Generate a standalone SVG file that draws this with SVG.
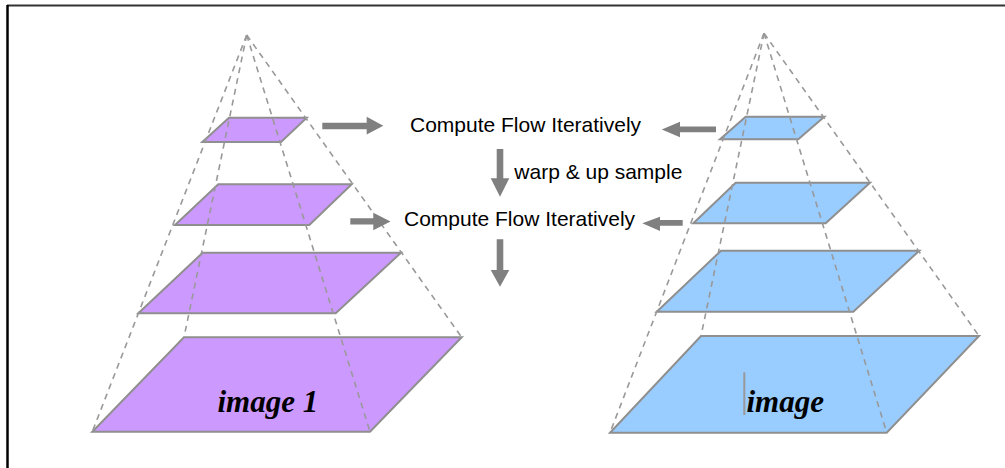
<svg xmlns="http://www.w3.org/2000/svg" width="1005" height="468" viewBox="0 0 1005 468">
  <defs>
    <style>
      .frame-top { stroke: #333; stroke-width: 2; }
      .frame-left { stroke: #000; stroke-width: 2.5; }
      .plane-a { fill: #CC99FF; stroke: #8f8f8f; stroke-width: 2; stroke-linejoin: miter; }
      .plane-b { fill: #99CCFF; stroke: #8f8f8f; stroke-width: 2; stroke-linejoin: miter; }
      .edge { fill: none; stroke: #999; stroke-width: 1.6; stroke-dasharray: 6 5; }
      .arrow { fill: #808080; stroke: none; }
      .label { font-family: "Liberation Sans", Arial, sans-serif; font-size: 21px; fill: #000; }
      .title { font-family: "Liberation Serif", "Times New Roman", serif; font-size: 31px; font-weight: bold; font-style: italic; fill: #000; }
    </style>
  </defs>

  <rect x="0" y="0" width="1005" height="468" fill="#fff"/>
  <line class="frame-top" x1="7" y1="5.5" x2="1005" y2="5.5"/>
  <line class="frame-left" x1="7.5" y1="5" x2="7.5" y2="468"/>

  <!-- left pyramid: image 1 -->
  <g id="pyramid-left">
    <polygon id="left-level-3" class="plane-a" points="229,117.7 306.7,117.7 281,142 202.3,142"/>
    <polygon id="left-level-2" class="plane-a" points="218.3,184.3 351.7,184.3 309.3,225 175,225"/>
    <polygon id="left-level-1" class="plane-a" points="202.7,252.7 401,252.7 335.7,313.3 138.3,313.3"/>
    <polygon id="left-level-0" class="plane-a" points="184,337.3 461.7,337.3 370,431.7 92.3,431.7"/>
    <g id="left-edges">
      <line class="edge" x1="246.7" y1="35" x2="92.3" y2="431.7"/>
      <line class="edge" x1="246.7" y1="35" x2="184" y2="337.3"/>
      <line class="edge" x1="246.7" y1="35" x2="370" y2="431.7"/>
      <line class="edge" x1="246.7" y1="35" x2="461.7" y2="337.3"/>
    </g>
    <text class="title" x="217.5" y="411.5">image 1</text>
  </g>

  <!-- right pyramid: image 2 -->
  <g id="pyramid-right">
    <polygon id="right-level-3" class="plane-b" points="745.7,116.7 824.3,116.7 798.3,139.3 720,139.3"/>
    <polygon id="right-level-2" class="plane-b" points="735.7,182.7 870,182.7 825.7,223.3 693.3,223.3"/>
    <polygon id="right-level-1" class="plane-b" points="721,250.7 919.3,250.7 853.3,311.7 656.7,311.7"/>
    <polygon id="right-level-0" class="plane-b" points="701,336 979,336 886.7,432.7 610,432.7"/>
    <g id="right-edges">
      <line class="edge" x1="764" y1="33.3" x2="610" y2="432.7"/>
      <line class="edge" x1="764" y1="33.3" x2="701" y2="336"/>
      <line class="edge" x1="764" y1="33.3" x2="886.7" y2="432.7"/>
      <line class="edge" x1="764" y1="33.3" x2="979" y2="336"/>
    </g>
    <rect x="743.3" y="372.3" width="2" height="42.7" fill="#999"/>
    <text class="title" x="746.5" y="411.5">image</text>
  </g>

  <!-- processing steps -->
  <g id="step-coarse">
    <text class="label" x="410" y="132.3">Compute Flow Iteratively</text>
  </g>
  <g id="step-fine">
    <text class="label" x="404" y="225.7">Compute Flow Iteratively</text>
  </g>
  <g id="step-warp">
    <text class="label" x="514.3" y="179">warp &amp; up sample</text>
  </g>

  <!-- connectors -->
  <g id="connectors">
    <polygon class="arrow" points="322.3,122.7 366.7,122.7 366.7,116.7 383.3,125.8 366.7,134.5 366.7,129.3 322.3,129.3"/>
    <polygon class="arrow" points="350.3,218.3 373.3,218.3 373.3,212.8 390.5,221.5 373.3,230.2 373.3,224.6 350.3,224.6"/>
    <polygon class="arrow" points="716,126.6 680,126.6 680,121.7 661.8,129.5 680,137.3 680,132.3 716,132.3"/>
    <polygon class="arrow" points="682.7,220 660,220 660,216.7 642.3,223.2 660,231 660,225.8 682.7,225.8"/>
    <polygon class="arrow" points="496.7,149 503.3,149 503.3,178.3 509.3,178.3 500,196.7 490.7,178.3 496.7,178.3"/>
    <polygon class="arrow" points="496.7,239.3 503.3,239.3 503.3,270 509.3,270 500,286.7 490.7,270 496.7,270"/>
  </g>
</svg>
